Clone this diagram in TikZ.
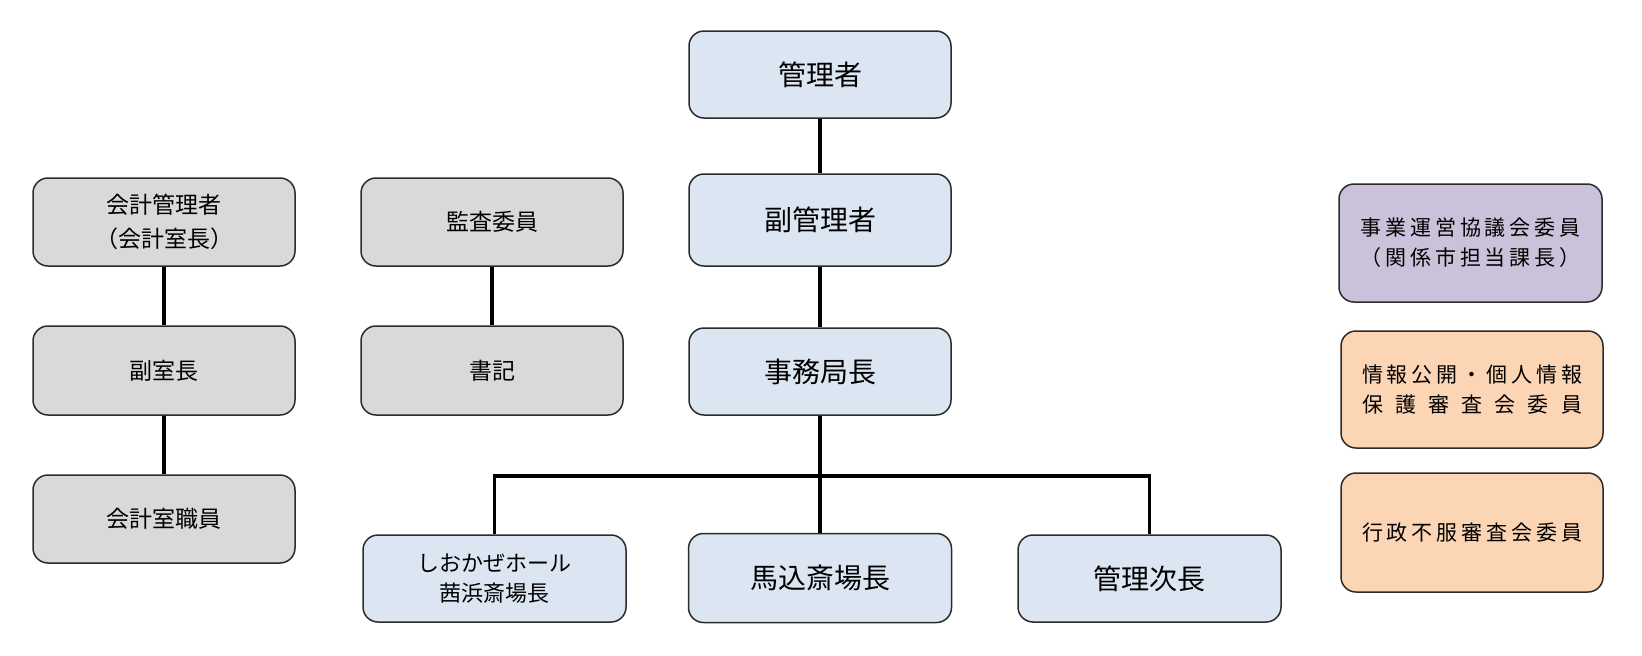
\documentclass[tikz,border=0pt]{standalone}
\usepackage{fontspec}
\setmainfont{Noto Sans CJK JP}
\definecolor{bluefill}{HTML}{DCE6F2}
\definecolor{grayfill}{HTML}{D9D9D9}
\definecolor{purplefill}{HTML}{CCC1DA}
\definecolor{orangefill}{HTML}{FCD5B5}
\definecolor{edge}{HTML}{2B2B2B}
\newcommand{\spreadline}[1]{\hbox to 220pt{#1}}
\tikzset{
  orgbox/.style={draw=edge, line width=1.5pt, rounded corners=15pt, align=center,
    inner sep=0pt, text=black, minimum width=262pt},
  bigtext/.style={font=\fontsize{28}{34}\selectfont},
  midtext/.style={font=\fontsize{23}{34}\selectfont},
  smalltext/.style={font=\fontsize{21}{30}\selectfont},
  bluebox/.style={orgbox, fill=bluefill},
  graybox/.style={orgbox, fill=grayfill},
  purplebox/.style={orgbox, fill=purplefill},
  orangebox/.style={orgbox, fill=orangefill},
  link/.style={line width=3.5pt, black}
}
\begin{document}
\begin{tikzpicture}[x=1pt, y=-1pt]
\useasboundingbox (0,0) rectangle (1642,656);
% centre column
\node[bluebox, bigtext, minimum height=87pt] (top) at (820,74.5) {管理者};
\node[bluebox, bigtext, minimum height=92pt] (vice) at (820,220) {副管理者};
\node[bluebox, bigtext, minimum height=87pt] (chief) at (820,371.5) {事務局長};
\node[bluebox, midtext, font=\fontsize{22}{30}\selectfont, minimum width=263pt, minimum height=87pt] (shio) at (494.5,578.5) {しおかぜホール\\茜浜斎場長};
\node[bluebox, bigtext, minimum width=263pt, minimum height=89pt] (mago) at (820,578) {馬込斎場長};
\node[bluebox, bigtext, minimum width=263pt, minimum height=87pt] (jicho) at (1149.5,578.5) {管理次長};
% left columns
\node[graybox, midtext, minimum height=88pt] (acc) at (164,222) {会計管理者\\（会計室長）};
\node[graybox, midtext, minimum height=89pt] (accvice) at (164,370.5) {副室長};
\node[graybox, midtext, minimum height=88pt] (accstaff) at (164,519) {会計室職員};
\node[graybox, midtext, minimum height=88pt] (audit) at (492,222) {監査委員};
\node[graybox, midtext, minimum height=89pt] (clerk) at (492,370.5) {書記};
% right column
\node[purplebox, smalltext, minimum width=263pt, minimum height=118pt] (r1) at (1470.5,243)
  {\spreadline{事\hfill 業\hfill 運\hfill 営\hfill 協\hfill 議\hfill 会\hfill 委\hfill 員}\\
   \spreadline{（\hfill 関\hfill 係\hfill 市\hfill 担\hfill 当\hfill 課\hfill 長\hfill ）}};
\node[orangebox, smalltext, minimum height=117pt] (r2) at (1472,389.5)
  {\spreadline{情\hfill 報\hfill 公\hfill 開\hfill ・\hfill 個\hfill 人\hfill 情\hfill 報}\\
   \spreadline{保\hfill 護\hfill 審\hfill 査\hfill 会\hfill 委\hfill 員}};
\node[orangebox, smalltext, minimum height=119pt] (r3) at (1472,532.5)
  {\spreadline{行\hfill 政\hfill 不\hfill 服\hfill 審\hfill 査\hfill 会\hfill 委\hfill 員}};
% connectors
\coordinate (bus) at (820,476);
\draw[link] (top) -- (vice);
\draw[link] (vice) -- (chief);
\draw[link] (chief) -- (mago);
\draw[link] (shio.north) |- (bus) -| (jicho.north);
\draw[link] (acc) -- (accvice);
\draw[link] (accvice) -- (accstaff);
\draw[link] (audit) -- (clerk);
\end{tikzpicture}
\end{document}
